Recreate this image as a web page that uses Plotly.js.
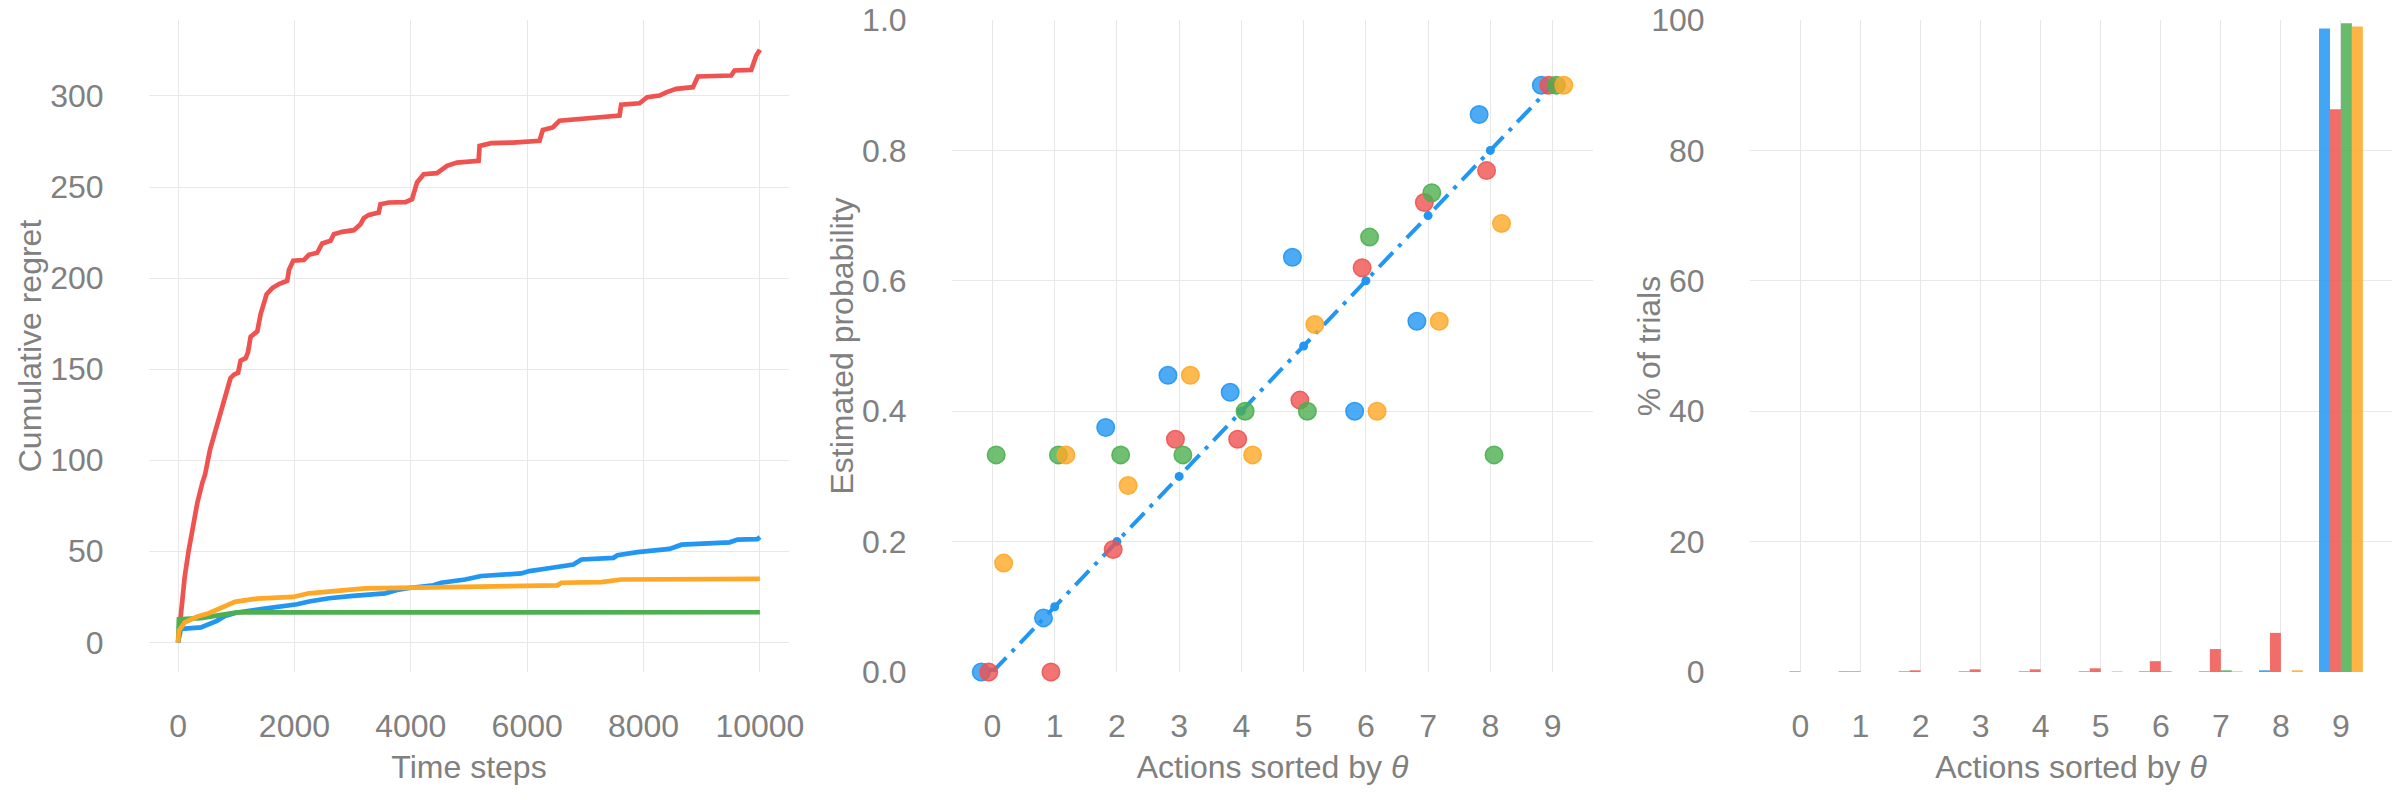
<!DOCTYPE html>
<html lang="en">
<head>
    <meta charset="UTF-8">
    <title>Bandit comparison</title>
    <script src="https://cdn.plot.ly/plotly-3.0.1.min.js"></script>
    <style>
        html, body { margin: 0; padding: 0; background: #ffffff; }
        #plot { width: 2400px; height: 800px; }
    </style>
</head>
<body>
    <div id="plot"></div>

    <script>
        // ---- panel 1: cumulative regret ----
        const blueT = [0, 48, 392, 495, 667, 805, 1011, 1425, 1769, 2045, 2251, 2595, 3008, 3559, 3765, 3972, 4385, 4522, 4935, 5211, 5899, 6037, 6312, 6794, 6932, 7482, 7551, 7896, 8447, 8653, 9479, 9617, 9959, 10000];
        const blueRegret = [0, 7.3, 8.2, 9.5, 11.8, 14.5, 16.4, 18.2, 19.6, 20.9, 22.4, 24.2, 25.5, 26.9, 28.7, 29.8, 31.3, 32.7, 34.5, 36.4, 37.8, 39.1, 40.4, 42.7, 45.5, 46.4, 47.8, 49.5, 51.3, 53.6, 54.9, 56.4, 56.7, 57.8];

        const redT = [0, 50, 114, 180, 245, 332, 420, 463, 550, 681, 812, 900, 960, 1031, 1075, 1161, 1201, 1247, 1361, 1419, 1522, 1619, 1733, 1876, 1905, 1979, 2162, 2248, 2391, 2477, 2620, 2677, 2820, 3020, 3135, 3192, 3278, 3449, 3478, 3621, 3907, 4021, 4107, 4221, 4450, 4622, 4793, 5079, 5165, 5182, 5381, 5754, 6212, 6269, 6441, 6556, 6842, 7129, 7587, 7616, 7931, 8063, 8275, 8390, 8562, 8848, 8934, 9507, 9564, 9851, 9937, 10000];
        const redRegret = [0, 18, 36, 50, 61, 76.8, 88, 92, 106, 120, 134, 145, 147, 148, 154.7, 156, 159.2, 167.8, 170.7, 180.3, 191.2, 194.5, 196.7, 198.5, 204.4, 209.5, 209.9, 212.8, 213.9, 219, 220.5, 224.1, 225.4, 226.3, 229.6, 232.9, 234.7, 236, 240.6, 241.5, 241.7, 243.3, 252.5, 257, 257.6, 261.6, 263.4, 264.4, 264.4, 272.6, 274.1, 274.4, 275.4, 281.3, 282.7, 286.4, 287.3, 287.9, 289.2, 295.2, 296, 299.3, 300.2, 302, 303.9, 304.8, 310.7, 311.2, 314, 314.3, 322.2, 325.4];

        const greenT = [0, 14, 392, 736, 1011, 10000];
        const greenRegret = [0, 12.7, 13.3, 15.1, 16.4, 16.5];

        const orangeT = [0, 14, 117, 323, 530, 736, 977, 1356, 1975, 2251, 2733, 3215, 4385, 5211, 6519, 6588, 7276, 7620, 10000];
        const orangeRegret = [0, 6.4, 10.9, 14, 16, 19, 22.2, 24, 24.9, 26.9, 28.5, 29.6, 30.2, 30.5, 31.3, 32.7, 33.1, 34.5, 34.8];

        // ---- panel 2: estimated probability per action ----
        const actions = [0, 1, 2, 3, 4, 5, 6, 7, 8, 9];
        const thetaTrue = [0, 0.1, 0.2, 0.3, 0.4, 0.5, 0.6, 0.7, 0.8, 0.9];
        const blueEst = [0, 0.083, 0.375, 0.455, 0.429, 0.636, 0.4, 0.538, 0.855, 0.9];
        const redEst = [0, 0, 0.188, 0.357, 0.357, 0.417, 0.62, 0.72, 0.769, 0.9];
        const greenEst = [0.333, 0.333, 0.333, 0.333, 0.4, 0.4, 0.667, 0.735, 0.333, 0.9];
        const orangeEst = [0.167, 0.333, 0.286, 0.455, 0.333, 0.533, 0.4, 0.538, 0.688, 0.9];

        // ---- panel 3: % of trials choosing each action ----
        const bluePct = [0, 0.1, 0.1, 0.1, 0.1, 0.1, 0.1, 0.1, 0.26, 98.7];
        const redPct = [0.1, 0.1, 0.26, 0.41, 0.41, 0.57, 1.66, 3.52, 6.0, 86.3];
        const greenPct = [0, 0, 0, 0, 0, 0, 0.1, 0.26, 0, 99.5];
        const orangePct = [0, 0, 0, 0, 0, 0.1, 0, 0.1, 0.26, 99.0];

        const colors = ['#2196F3', '#EF5350', '#4CAF50', '#FFA726'];
        const rgba = (hex, a) => {
            const n = parseInt(hex.slice(1), 16);
            return `rgba(${n >> 16},${(n >> 8) & 255},${n & 255},${a})`;
        };

        const traces = [];

        // regret lines
        [[blueT, blueRegret], [redT, redRegret], [greenT, greenRegret], [orangeT, orangeRegret]].forEach((s, i) => {
            traces.push({
                x: s[0], y: s[1], type: 'scatter', mode: 'lines',
                line: { color: colors[i], width: 4.7 },
                xaxis: 'x', yaxis: 'y', hoverinfo: 'skip'
            });
        });

        // true theta reference
        traces.push({
            x: actions, y: thetaTrue, type: 'scatter', mode: 'lines+markers',
            line: { color: colors[0], width: 4, dash: 'longdashdot' },
            marker: { color: colors[0], size: 9 },
            xaxis: 'x2', yaxis: 'y2', hoverinfo: 'skip'
        });

        // estimates, nudged sideways so they do not overlap
        const offsets = [-0.18, -0.06, 0.06, 0.18];
        [blueEst, redEst, greenEst, orangeEst].forEach((vals, i) => {
            traces.push({
                x: actions.map(a => a + offsets[i]), y: vals,
                type: 'scatter', mode: 'markers', cliponaxis: false,
                marker: { color: rgba(colors[i], 0.8), size: 17.5, line: { color: rgba(colors[i], 0.9), width: 1.5 } },
                xaxis: 'x2', yaxis: 'y2', hoverinfo: 'skip'
            });
        });

        // bars
        [bluePct, redPct, greenPct, orangePct].forEach((vals, i) => {
            traces.push({
                x: actions, y: vals, type: 'bar',
                marker: { color: colors[i], opacity: 0.85, line: { width: 0 } },
                xaxis: 'x3', yaxis: 'y3', hoverinfo: 'skip'
            });
        });

        const W = 2400;
        const gridColor = 'rgb(232,232,232)';
        const baseAxis = {
            showgrid: true, gridcolor: gridColor, gridwidth: 1,
            zeroline: false, showline: false,
            ticks: 'outside', ticklen: 38, tickcolor: 'rgba(0,0,0,0)',
            automargin: false
        };
        const xAxisBase = Object.assign({}, baseAxis, { ticklen: 26 });
        const titleFont = { size: 32, color: 'rgb(128,128,128)' };

        const layout = {
            width: 2400, height: 800,
            margin: { l: 0, r: 0, t: 20, b: 128 },
            paper_bgcolor: '#ffffff', plot_bgcolor: '#ffffff',
            font: { family: 'Arial, "Liberation Sans", sans-serif', size: 32, color: 'rgb(128,128,128)' },
            showlegend: false,
            barmode: 'group', bargap: 0.27, bargroupgap: 0,
            xaxis: Object.assign({}, xAxisBase, {
                domain: [149 / W, 789 / W], anchor: 'y',
                range: [-500, 10500], tickvals: [0, 2000, 4000, 6000, 8000, 10000], tickformat: 'd',
                title: { text: 'Time steps', font: titleFont }
            }),
            yaxis: Object.assign({}, baseAxis, {
                anchor: 'x', range: [-16.3, 341.7], tickvals: [0, 50, 100, 150, 200, 250, 300],
                title: { text: 'Cumulative regret', font: titleFont }
            }),
            xaxis2: Object.assign({}, xAxisBase, {
                domain: [952 / W, 1593 / W], anchor: 'y2',
                range: [-0.65, 9.65], tickvals: actions,
                title: { text: 'Actions sorted by <i>θ</i>', font: titleFont }
            }),
            yaxis2: Object.assign({}, baseAxis, {
                anchor: 'x2', range: [0, 1], tickvals: [0, 0.2, 0.4, 0.6, 0.8, 1.0], tickformat: '.1f',
                title: { text: 'Estimated probability', font: titleFont }
            }),
            xaxis3: Object.assign({}, xAxisBase, {
                domain: [1750 / W, 2392 / W], anchor: 'y3',
                range: [-0.84, 9.85], tickvals: actions,
                title: { text: 'Actions sorted by <i>θ</i>', font: titleFont }
            }),
            yaxis3: Object.assign({}, baseAxis, {
                anchor: 'x3', range: [0, 100], tickvals: [0, 20, 40, 60, 80, 100],
                title: { text: '% of trials', font: titleFont }
            })
        };

        Plotly.newPlot('plot', traces, layout, { displayModeBar: false, staticPlot: true });
    </script>
</body>
</html>
